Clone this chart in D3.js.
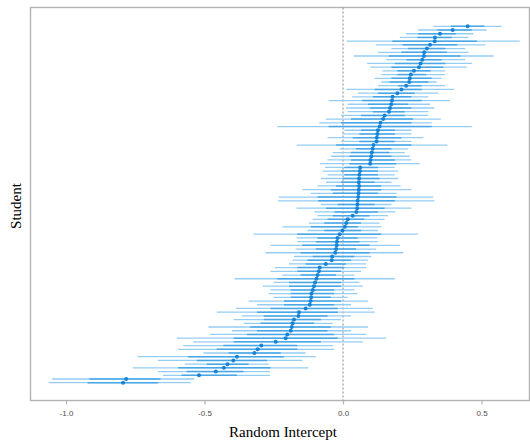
<!DOCTYPE html>
<html><head><meta charset="utf-8">
<script src="https://cdn.jsdelivr.net/npm/d3@7"></script>
<style>body{margin:0;background:#fff}</style>
</head><body>
<svg id="c" width="530" height="442"></svg>
<script>
// rows listed top to bottom
const estimate = [0.450,0.396,0.350,0.332,0.331,0.314,0.303,0.293,0.292,0.286,0.280,0.274,0.256,0.245,0.241,0.239,0.228,0.211,0.196,0.179,0.177,0.174,0.170,0.166,0.150,0.145,0.135,0.132,0.126,0.124,0.122,0.121,0.110,0.107,0.104,0.102,0.099,0.098,0.062,0.061,0.059,0.058,0.057,0.058,0.057,0.056,0.055,0.053,0.052,0.051,0.048,0.035,0.017,0.012,0.007,-0.002,-0.012,-0.020,-0.022,-0.023,-0.025,-0.028,-0.039,-0.041,-0.062,-0.084,-0.087,-0.092,-0.096,-0.101,-0.105,-0.109,-0.114,-0.115,-0.117,-0.120,-0.135,-0.159,-0.161,-0.177,-0.182,-0.185,-0.189,-0.201,-0.207,-0.243,-0.295,-0.308,-0.320,-0.383,-0.396,-0.417,-0.430,-0.459,-0.520,-0.783,-0.794];
const lower95 = [0.327,0.271,0.227,0.205,0.013,0.118,0.175,0.126,0.039,0.156,0.087,0.099,0.142,0.138,0.114,0.138,0.126,0.013,0.053,0.033,-0.052,0.017,0.011,0.017,-0.007,-0.062,-0.086,-0.237,0.005,-0.001,-0.056,-0.007,-0.167,-0.013,-0.037,-0.044,-0.056,-0.083,-0.065,-0.074,-0.056,-0.080,-0.062,-0.092,-0.147,-0.116,-0.232,-0.235,-0.080,-0.168,-0.104,-0.092,-0.110,-0.123,-0.219,-0.128,-0.323,-0.168,-0.165,-0.262,-0.171,-0.280,-0.177,-0.183,-0.195,-0.246,-0.262,-0.219,-0.392,-0.250,-0.290,-0.262,-0.268,-0.250,-0.341,-0.310,-0.387,-0.456,-0.365,-0.395,-0.359,-0.486,-0.401,-0.480,-0.601,-0.541,-0.577,-0.595,-0.504,-0.741,-0.668,-0.571,-0.759,-0.668,-0.650,-1.050,-1.062];
const upper95 = [0.572,0.518,0.471,0.453,0.638,0.514,0.441,0.453,0.544,0.441,0.465,0.447,0.369,0.369,0.356,0.338,0.369,0.401,0.344,0.308,0.387,0.314,0.329,0.308,0.308,0.353,0.320,0.465,0.247,0.247,0.290,0.247,0.377,0.235,0.223,0.241,0.247,0.277,0.187,0.199,0.187,0.199,0.175,0.208,0.247,0.193,0.326,0.330,0.175,0.247,0.189,0.162,0.150,0.132,0.138,0.126,0.271,0.124,0.126,0.205,0.120,0.217,0.102,0.090,0.084,0.084,0.065,0.041,0.187,0.059,0.072,0.041,0.053,0.017,0.090,0.029,0.108,0.114,0.029,-0.007,-0.037,0.090,0.029,0.084,0.156,0.072,-0.037,-0.032,-0.135,-0.098,-0.147,-0.268,-0.125,-0.264,-0.264,-0.537,-0.549];
const lower50 = [0.389,0.341,0.271,0.268,0.178,0.215,0.235,0.211,0.166,0.229,0.187,0.175,0.196,0.196,0.175,0.168,0.199,0.114,0.126,0.108,0.069,0.090,0.096,0.108,0.065,0.029,-0.007,-0.052,0.065,0.059,0.035,0.059,-0.025,0.047,0.029,0.023,0.029,0.023,0.005,-0.007,0.005,-0.001,-0.007,-0.025,-0.044,-0.037,-0.092,-0.090,-0.019,-0.062,-0.031,-0.037,-0.056,-0.068,-0.116,-0.068,-0.165,-0.092,-0.098,-0.147,-0.098,-0.153,-0.110,-0.128,-0.135,-0.165,-0.165,-0.153,-0.237,-0.195,-0.195,-0.189,-0.189,-0.189,-0.213,-0.213,-0.262,-0.310,-0.286,-0.286,-0.298,-0.335,-0.310,-0.347,-0.395,-0.395,-0.432,-0.456,-0.413,-0.559,-0.528,-0.492,-0.595,-0.565,-0.583,-0.916,-0.922];
const upper50 = [0.510,0.465,0.407,0.393,0.484,0.413,0.369,0.375,0.424,0.356,0.369,0.362,0.316,0.300,0.320,0.308,0.284,0.284,0.259,0.247,0.284,0.235,0.247,0.223,0.223,0.253,0.247,0.320,0.187,0.187,0.211,0.187,0.247,0.175,0.168,0.175,0.187,0.193,0.126,0.126,0.126,0.132,0.114,0.138,0.138,0.126,0.193,0.187,0.114,0.150,0.126,0.096,0.077,0.065,0.053,0.065,0.138,0.053,0.059,0.096,0.047,0.096,0.041,0.029,0.011,0.005,-0.007,-0.025,0.041,-0.007,-0.007,-0.032,-0.032,-0.044,-0.007,-0.032,-0.019,-0.019,-0.056,-0.080,-0.104,-0.044,-0.056,-0.032,-0.019,-0.080,-0.165,-0.165,-0.225,-0.213,-0.274,-0.341,-0.262,-0.359,-0.383,-0.659,-0.667];
const xTicks = [-1.0, -0.5, 0.0, 0.5];
const xLabel = "Random Intercept";
const yLabel = "Student";

const svg = d3.select("#c");
const panel = {left: 30.5, right: 529.5, top: 7.5, bottom: 400.5};
const x = d3.scaleLinear().domain([-1.13, 0.675]).range([30, 530]);
const y = d3.scaleLinear().domain([0, estimate.length - 1]).range([26.3, 382.7]);

// panel border
svg.append("rect").attr("x", panel.left).attr("y", panel.top)
  .attr("width", panel.right - panel.left).attr("height", panel.bottom - panel.top)
  .attr("fill", "none").attr("stroke", "#b3b3b3").attr("stroke-width", 1.4);

// zero reference line
svg.append("line").attr("x1", x(0)).attr("x2", x(0)).attr("y1", panel.top).attr("y2", panel.bottom)
  .attr("stroke", "#9a9a9a").attr("stroke-width", 1.2).attr("stroke-dasharray", "2,2");

const rows = estimate.map((e, i) => ({i, e, l95: lower95[i], u95: upper95[i], l50: lower50[i], u50: upper50[i]}));

const g = svg.append("g");
g.selectAll("line.outer").data(rows).join("line").attr("class", "outer")
  .attr("x1", d => x(d.l95)).attr("x2", d => x(d.u95))
  .attr("y1", d => y(d.i)).attr("y2", d => y(d.i))
  .attr("stroke", "#96cdf2").attr("stroke-width", 1.3);
g.selectAll("line.inner").data(rows).join("line").attr("class", "inner")
  .attr("x1", d => x(d.l50)).attr("x2", d => x(d.u50))
  .attr("y1", d => y(d.i)).attr("y2", d => y(d.i))
  .attr("stroke", "#4aa7e7").attr("stroke-width", 1.5);
g.selectAll("circle").data(rows).join("circle")
  .attr("cx", d => x(d.e)).attr("cy", d => y(d.i)).attr("r", 2)
  .attr("fill", "#1683d6");

// x axis
const ax = svg.append("g").attr("transform", `translate(0,${panel.bottom})`)
  .call(d3.axisBottom(x).tickValues(xTicks).tickFormat(d => d.toFixed(1)).tickSize(4).tickPadding(6));
ax.select(".domain").remove();
ax.selectAll(".tick line").attr("stroke", "#b3b3b3").attr("stroke-width", 1.2);
ax.selectAll(".tick text").attr("fill", "#4d4d4d").style("font-family", "Liberation Sans, Arial, sans-serif").style("font-size", "8px");

svg.append("text").attr("x", 283).attr("y", 437).attr("text-anchor", "middle")
  .style("font-family", "Liberation Serif, Times New Roman, serif").style("font-size", "15px").attr("fill", "#000")
  .text(xLabel);
svg.append("text").attr("transform", "translate(21,206) rotate(-90)").attr("text-anchor", "middle")
  .style("font-family", "Liberation Serif, Times New Roman, serif").style("font-size", "15px").attr("fill", "#000")
  .text(yLabel);
</script>
</body></html>
